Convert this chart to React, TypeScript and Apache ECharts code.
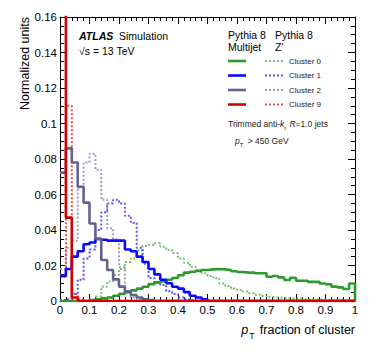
import React, { useEffect, useRef } from "react";
import * as echarts from "echarts";

// Bin edges (width 0.02) of the pT-fraction histograms
const binEdges = [
  0, 0.02, 0.04, 0.06, 0.08, 0.1, 0.12, 0.14, 0.16, 0.18,
  0.2, 0.22, 0.24, 0.26, 0.28, 0.3, 0.32, 0.34, 0.36, 0.38,
  0.4, 0.42, 0.44, 0.46, 0.48, 0.5, 0.52, 0.54, 0.56, 0.58,
  0.6, 0.62, 0.64, 0.66, 0.68, 0.7, 0.72, 0.74, 0.76, 0.78,
  0.8, 0.82, 0.84, 0.86, 0.88, 0.9, 0.92, 0.94, 0.96, 0.98, 1.0,
];

// Pythia 8 Multijet (solid)
const multijetC0 = [
  0, 0, 0, 0, 0, 0.0005, 0.001, 0.0015, 0.002, 0.003,
  0.004, 0.005, 0.006, 0.007, 0.008, 0.0095, 0.0105, 0.011, 0.012, 0.013,
  0.0145, 0.016, 0.0165, 0.017, 0.0175, 0.0178, 0.018, 0.0178, 0.0175, 0.0168,
  0.0163, 0.016, 0.016, 0.0156, 0.0156, 0.0137, 0.0141, 0.0133, 0.0118, 0.0131,
  0.0114, 0.0114, 0.0108, 0.0108, 0.0099, 0.0094, 0.0081, 0.0077, 0.0068, 0.0099, 0,
];
const multijetC1 = [
  0.014, 0.018, 0.025, 0.028, 0.032, 0.033, 0.035, 0.0345, 0.034, 0.034,
  0.034, 0.029, 0.028, 0.025, 0.022, 0.018, 0.015, 0.012, 0.01, 0.008,
  0.007, 0.005, 0.003, 0.002, 0.001, 0, 0, 0, 0, 0,
  0, 0, 0, 0, 0, 0, 0, 0, 0, 0,
  0, 0, 0, 0, 0, 0, 0, 0, 0, 0,
];
const multijetC2 = [
  0.0723, 0.086, 0.078, 0.0644, 0.0554, 0.0437, 0.0349, 0.0231, 0.0175, 0.0122,
  0.0081, 0.0053, 0.0034, 0.002, 0.001, 0.0005, 0, 0, 0, 0,
  0, 0, 0, 0, 0, 0, 0, 0, 0, 0,
  0, 0, 0, 0, 0, 0, 0, 0, 0, 0,
  0, 0, 0, 0, 0, 0, 0, 0, 0, 0,
];
const multijetC9 = [
  0.3, 0.047, 0.002, 0, 0, 0, 0, 0, 0, 0,
  0, 0, 0, 0, 0, 0, 0, 0, 0, 0,
  0, 0, 0, 0, 0, 0, 0, 0, 0, 0,
  0, 0, 0, 0, 0, 0, 0, 0, 0, 0,
  0, 0, 0, 0, 0, 0, 0, 0, 0, 0,
];

// Pythia 8 Z' (dotted)
const zprimeC0 = [
  0, 0, 0, 0, 0, 0.0005, 0.0025, 0.008, 0.011, 0.0146,
  0.018, 0.022, 0.024, 0.0285, 0.031, 0.0315, 0.0325, 0.0305, 0.0287, 0.027,
  0.024, 0.0216, 0.0193, 0.0175, 0.0156, 0.0141, 0.0128, 0.0099, 0.0084, 0.0071,
  0.0062, 0.0053, 0.0043, 0.0035, 0.0028, 0.0022, 0.002, 0.0018, 0.0015, 0.0013,
  0.0012, 0.001, 0.0009, 0.0008, 0.0007, 0.0006, 0.0005, 0.0004, 0.0003, 0.0002,
];
const zprimeC1 = [
  0.0005, 0.001, 0.004, 0.012, 0.024, 0.029, 0.04, 0.05, 0.055, 0.057,
  0.055, 0.048, 0.044, 0.03, 0.021, 0.013, 0.01, 0.009, 0.0055, 0.004,
  0.002, 0.001, 0.0005, 0, 0, 0, 0, 0, 0, 0,
  0, 0, 0, 0, 0, 0, 0, 0, 0, 0,
  0, 0, 0, 0, 0, 0, 0, 0, 0, 0,
];
const zprimeC2 = [
  0.018, 0.03, 0.034, 0.064, 0.078, 0.083, 0.074, 0.057, 0.041, 0.035,
  0.019, 0.005, 0.002, 0.001, 0.0005, 0, 0, 0, 0, 0,
  0, 0, 0, 0, 0, 0, 0, 0, 0, 0,
  0, 0, 0, 0, 0, 0, 0, 0, 0, 0,
  0, 0, 0, 0, 0, 0, 0, 0, 0, 0,
];
const zprimeC9 = [
  0.015, 0.11, 0.004, 0.001, 0, 0, 0, 0, 0, 0,
  0, 0, 0, 0, 0, 0, 0, 0, 0, 0,
  0, 0, 0, 0, 0, 0, 0, 0, 0, 0,
  0, 0, 0, 0, 0, 0, 0, 0, 0, 0,
  0, 0, 0, 0, 0, 0, 0, 0, 0, 0,
];

const clusterLabels = ["Cluster 0", "Cluster 1", "Cluster 2", "Cluster 9"];
const yTicks = { min: 0, max: 0.16, interval: 0.02 };
const xTicks = { min: 0, max: 1, interval: 0.1 };

const solidColors = ["#2e9a2e", "#0a0aff", "#62628f", "#d40000"];
const dottedColors = ["#74c074", "#5757ff", "#9d9dc8", "#ee4848"];

const FONT = "'Liberation Sans', Arial, Helvetica, sans-serif";

function toSteps(vals: number[]) {
  const pts: number[][] = vals.map((v, i) => [binEdges[i], v]);
  pts.push([binEdges[vals.length], vals[vals.length - 1]]);
  return pts;
}

export default function App() {
  const ref = useRef<HTMLDivElement>(null);

  useEffect(() => {
    document.body.style.margin = "0";
    if (!ref.current) return;
    const chart = echarts.init(ref.current, null, { renderer: "svg" });

    const mk = (name: string, vals: number[], color: string, dotted: boolean, z: number) => ({
      name,
      type: "line",
      step: "end",
      data: toSteps(vals),
      showSymbol: false,
      symbol: "none",
      clip: true,
      z,
      lineStyle: {
        color,
        width: dotted ? 2 : 2.6,
        type: dotted ? [2, 2] : "solid",
        cap: "butt",
      },
    });

    const series = [
      mk("Z' Cluster 0", zprimeC0, dottedColors[0], true, 2),
      mk("Z' Cluster 1", zprimeC1, dottedColors[1], true, 2),
      mk("Z' Cluster 2", zprimeC2, dottedColors[2], true, 2),
      mk("Z' Cluster 9", zprimeC9, dottedColors[3], true, 2),
      mk("Multijet Cluster 0", multijetC0, solidColors[0], false, 3),
      mk("Multijet Cluster 1", multijetC1, solidColors[1], false, 3),
      mk("Multijet Cluster 2", multijetC2, solidColors[2], false, 3),
      mk("Multijet Cluster 9", multijetC9, solidColors[3], false, 3),
    ];

    const legendY = [61, 75.5, 90, 104.5];
    const legendEls: any[] = [];
    clusterLabels.forEach((lab, i) => {
      legendEls.push({
        type: "line",
        shape: { x1: 228, y1: legendY[i], x2: 246, y2: legendY[i] },
        style: { stroke: solidColors[i], lineWidth: 2.6 },
      });
      legendEls.push({
        type: "line",
        shape: { x1: 265, y1: legendY[i], x2: 283, y2: legendY[i] },
        style: { stroke: dottedColors[i], lineWidth: 2, lineDash: [2, 2] },
      });
      legendEls.push({
        type: "text",
        x: 289,
        y: legendY[i],
        style: { text: lab, font: `8px ${FONT}`, fill: "#222", textVerticalAlign: "middle" },
      });
    });

    const axisCommon = {
      axisLine: { show: true, onZero: false, lineStyle: { color: "#000", width: 1 } },
      axisTick: { show: true, inside: true, length: 7, lineStyle: { color: "#000", width: 1 } },
      minorTick: { show: true, length: 4, lineStyle: { color: "#000", width: 1 } },
      splitLine: { show: false },
    };

    chart.setOption({
      animation: false,
      grid: { left: 60, top: 17, width: 295, height: 284, containLabel: false },
      xAxis: [
        {
          type: "value",
          ...xTicks,
          position: "bottom",
          ...axisCommon,
          minorTick: { ...axisCommon.minorTick, splitNumber: 5 },
          axisLabel: {
            show: true,
            margin: 3,
            color: "#000",
            fontSize: 11.5,
            fontFamily: FONT,
          },
        },
        {
          type: "value",
          ...xTicks,
          position: "top",
          ...axisCommon,
          minorTick: { ...axisCommon.minorTick, splitNumber: 5 },
          axisLabel: { show: false },
        },
      ],
      yAxis: [
        {
          type: "value",
          ...yTicks,
          position: "left",
          ...axisCommon,
          minorTick: { ...axisCommon.minorTick, splitNumber: 4 },
          axisLabel: {
            show: true,
            margin: 3,
            color: "#000",
            fontSize: 11.5,
            fontFamily: FONT,
          },
        },
        {
          type: "value",
          ...yTicks,
          position: "right",
          ...axisCommon,
          minorTick: { ...axisCommon.minorTick, splitNumber: 4 },
          axisLabel: { show: false },
        },
      ],
      series,
      graphic: [
        {
          type: "text",
          x: 25,
          y: 17,
          rotation: Math.PI / 2,
          style: {
            text: "Normalized units",
            font: `12.5px ${FONT}`,
            fill: "#000",
            textAlign: "right",
            textVerticalAlign: "middle",
          },
        },
        {
          type: "text",
          x: 355,
          y: 330,
          style: {
            text: "{i|p}{s|T} fraction of cluster",
            font: `12.5px ${FONT}`,
            fill: "#000",
            textAlign: "right",
            textVerticalAlign: "middle",
            rich: {
              i: { fontStyle: "italic", fontSize: 12.5, fontFamily: FONT, lineHeight: 20 },
              s: { fontSize: 8.5, fontFamily: FONT, lineHeight: 6, verticalAlign: "bottom", padding: [0, 2, 0, 1] },
            },
          },
        },
        {
          type: "text",
          x: 79,
          y: 36,
          style: {
            text: "{b|ATLAS}  Simulation",
            font: `10.5px ${FONT}`,
            fill: "#000",
            textVerticalAlign: "middle",
            rich: {
              b: { fontStyle: "italic", fontWeight: "bold", fontSize: 10.5, fontFamily: FONT },
            },
          },
        },
        {
          type: "text",
          x: 79,
          y: 50.5,
          style: { text: "√s = 13 TeV", font: `10.5px ${FONT}`, fill: "#000", textVerticalAlign: "middle" },
        },
        {
          type: "text",
          x: 228,
          y: 35,
          style: { text: "Pythia 8", font: `10.5px ${FONT}`, fill: "#000", textVerticalAlign: "middle" },
        },
        {
          type: "text",
          x: 275,
          y: 35,
          style: { text: "Pythia 8", font: `10.5px ${FONT}`, fill: "#000", textVerticalAlign: "middle" },
        },
        {
          type: "text",
          x: 228,
          y: 47,
          style: { text: "Multijet", font: `10.5px ${FONT}`, fill: "#000", textVerticalAlign: "middle" },
        },
        {
          type: "text",
          x: 275,
          y: 47,
          style: { text: "Z'", font: `10.5px ${FONT}`, fill: "#000", textVerticalAlign: "middle" },
        },
        ...legendEls,
        {
          type: "text",
          x: 228,
          y: 124,
          style: {
            text: "Trimmed anti-{i|k}{s|t} {i|R}=1.0 jets",
            font: `8.5px ${FONT}`,
            fill: "#222",
            textVerticalAlign: "middle",
            rich: {
              i: { fontStyle: "italic", fontSize: 8.5, fontFamily: FONT, lineHeight: 14 },
              s: { fontSize: 6, fontFamily: FONT, lineHeight: 6, verticalAlign: "bottom", padding: [0, 1, 0, 0] },
            },
          },
        },
        {
          type: "text",
          x: 235,
          y: 141,
          style: {
            text: "{i|p}{s|T} > 450 GeV",
            font: `8.5px ${FONT}`,
            fill: "#222",
            textVerticalAlign: "middle",
            rich: {
              i: { fontStyle: "italic", fontSize: 8.5, fontFamily: FONT, lineHeight: 14 },
              s: { fontSize: 6, fontFamily: FONT, lineHeight: 6, verticalAlign: "bottom", padding: [0, 2, 0, 0] },
            },
          },
        },
      ],
    });

    return () => chart.dispose();
  }, []);

  return <div ref={ref} style={{ width: 374, height: 359 }} />;
}
